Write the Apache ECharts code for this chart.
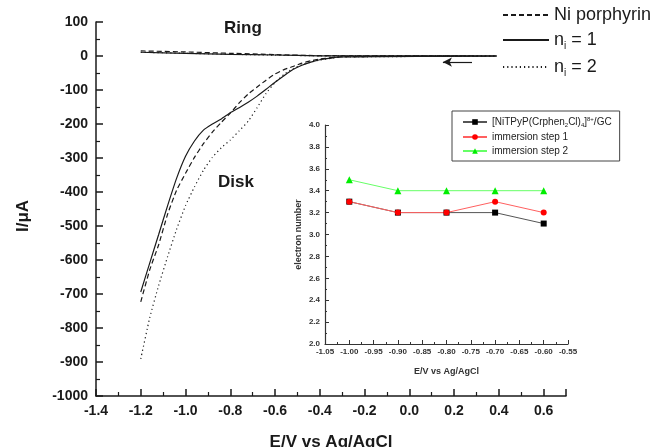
<!DOCTYPE html>
<html>
<head>
<meta charset="utf-8">
<script src="https://cdn.jsdelivr.net/npm/echarts@6/dist/echarts.min.js"></script>
<style>
  html, body { margin: 0; padding: 0; background: #fff; }
  #chart { width: 652px; height: 447px; }
</style>
</head>
<body>
<div id="chart"></div>
<script>
// ring current (small, near zero)
const ringE = [-1.2, -1.0, -0.8, -0.6, -0.4, 0.39];
const ringNi = [15, 12, 8, 4, 1, 0];
const ringN1 = [11, 8, 5, 3, 0.5, 0];
const ringN2 = [11, 8, 5, 2.5, 0.5, 0];

// disk current, all three share the same potentials
const diskE = [-1.20, -1.16, -1.12, -1.08, -1.04, -1.00, -0.96, -0.92, -0.88, -0.84, -0.80, -0.76, -0.72, -0.68, -0.64, -0.60, -0.56, -0.52, -0.48, -0.44, -0.40, -0.35, -0.30, 0.39];
const diskNi = [-723, -629, -555, -465, -395, -345, -298, -258, -224, -195, -168, -138, -112, -91, -71, -53, -40, -31, -21, -14, -9, -5, -2, 0];
const diskN1 = [-694, -609, -525, -440, -360, -295, -250, -218, -200, -185, -167, -152, -136, -118, -98, -77, -58, -40, -27, -18, -11, -6, -3, 0];
const diskN2 = [-891, -770, -675, -590, -510, -440, -385, -336, -298, -270, -247, -220, -192, -152, -110, -78, -54, -37, -26, -18, -12, -7, -3, 0];

// inset: electron number
const insetE = [-1.0, -0.9, -0.8, -0.7, -0.6];
const bareGC = [3.3, 3.2, 3.2, 3.2, 3.1];
const step1 = [3.3, 3.2, 3.2, 3.3, 3.2];
const step2 = [3.5, 3.4, 3.4, 3.4, 3.4];

const zip = (xs, ys) => xs.map((x, i) => [x, ys[i]]);

const FONT = 'Arial, "Liberation Sans", sans-serif';
const INK = '#1a1a1a';

const NAME_NI = 'Ni porphyrin';
const NAME_N1 = 'ni = 1';
const NAME_N2 = 'ni = 2';
const NAME_GC = 'GC';
const NAME_S1 = 'immersion step 1';
const NAME_S2 = 'immersion step 2';

function curve(name, data, dash) {
  return {
    name: name,
    type: 'line',
    xAxisIndex: 0,
    yAxisIndex: 0,
    data: data,
    symbol: 'none',
    smooth: 0.15,
    lineStyle: { color: INK, width: 1.2, type: dash },
    itemStyle: { color: INK },
    z: 2,
  };
}

function insetLine(name, data, color, lineColor, symbol, size) {
  return {
    name: name,
    type: 'line',
    xAxisIndex: 1,
    yAxisIndex: 1,
    data: data,
    symbol: symbol,
    symbolSize: size,
    lineStyle: { color: lineColor, width: 1 },
    itemStyle: { color: color },
    z: 5,
  };
}

const chart = echarts.init(document.getElementById('chart'));

const mainAxisCommon = {
  axisLine: { show: true, onZero: false, lineStyle: { color: INK, width: 1.5 } },
  axisTick: { show: true, inside: true, length: 7, lineStyle: { color: INK, width: 1.5 } },
  minorTick: { show: true, splitNumber: 2, length: 4, lineStyle: { color: INK, width: 1.2 } },
  splitLine: { show: false },
};
const mainName = { color: INK, fontFamily: FONT, fontWeight: 'bold', fontSize: 17 };
const mainLabel = { color: INK, fontFamily: FONT, fontWeight: 'bold', fontSize: 14, margin: 8 };

const insetAxisCommon = {
  axisLine: { show: true, onZero: false, lineStyle: { color: '#333', width: 1.2 } },
  axisTick: { show: true, inside: true, length: 4, lineStyle: { color: '#333', width: 1 } },
  minorTick: { show: true, splitNumber: 2, length: 2, lineStyle: { color: '#333', width: 1 } },
  splitLine: { show: false },
  nameTextStyle: { color: '#333', fontFamily: FONT, fontWeight: 'bold', fontSize: 9 },
};

const ringDiskLabel = (text, x, y) => ({
  type: 'text',
  left: x,
  top: y,
  style: { text: text, fill: INK, font: 'bold 17px ' + FONT },
});

chart.setOption({
  backgroundColor: '#fff',
  animation: false,
  grid: [
    { left: 96, top: 22, width: 470, height: 374, outerBoundsMode: 'none' },
    { left: 325, top: 125, width: 243, height: 219, outerBoundsMode: 'none' },
  ],
  legend: [
    {
      data: [NAME_NI, NAME_N1, NAME_N2],
      orient: 'vertical',
      left: 500,
      top: 4,
      itemWidth: 46,
      itemHeight: 12,
      itemGap: 7,
      padding: 2,
      itemStyle: { opacity: 0 },
      textStyle: {
        color: INK,
        fontFamily: FONT,
        fontSize: 18,
        rich: { s: { fontSize: 10, fontFamily: FONT, color: INK, verticalAlign: 'bottom', padding: [12, 0, 0, 0] } },
      },
      formatter: (n) => {
        if (n === NAME_N1) return 'n{s|i} = 1';
        if (n === NAME_N2) return 'n{s|i} = 2';
        return n;
      },
    },
    {
      data: [NAME_GC, NAME_S1, NAME_S2],
      orient: 'vertical',
      left: 452,
      top: 111,
      itemWidth: 24,
      itemHeight: 7,
      itemGap: 4,
      padding: [5, 8, 5, 10],
      borderColor: '#444',
      borderWidth: 1,
      textStyle: {
        color: '#222',
        fontFamily: FONT,
        fontSize: 10,
        rich: {
          sub: { fontSize: 6, fontFamily: FONT, color: '#222', padding: [6, 0, 0, 0] },
          sup: { fontSize: 6, fontFamily: FONT, color: '#222', padding: [0, 0, 6, 0] },
        },
      },
      formatter: (n) => {
        if (n === NAME_GC) return '[NiTPyP(Crphen{sub|2}Cl){sub|4}]{sup|8+}/GC';
        return n;
      },
    },
  ],
  xAxis: [
    Object.assign({}, mainAxisCommon, {
      gridIndex: 0,
      type: 'value',
      min: -1.4,
      max: 0.7,
      interval: 0.2,
      name: 'E/V vs Ag/AgCl',
      nameLocation: 'middle',
      nameGap: 38,
      nameTextStyle: mainName,
      axisLabel: Object.assign({}, mainLabel, {
        showMaxLabel: false,
        formatter: (v) => v.toFixed(1),
      }),
    }),
    Object.assign({}, insetAxisCommon, {
      gridIndex: 1,
      type: 'value',
      min: -1.05,
      max: -0.55,
      interval: 0.05,
      name: 'E/V vs Ag/AgCl',
      nameLocation: 'middle',
      nameGap: 23,
      axisLabel: {
        color: '#333', fontFamily: FONT, fontWeight: 'bold', fontSize: 8, margin: 4,
        formatter: (v) => v.toFixed(2),
      },
    }),
  ],
  yAxis: [
    Object.assign({}, mainAxisCommon, {
      gridIndex: 0,
      type: 'value',
      min: -1000,
      max: 100,
      interval: 100,
      name: 'I/μA',
      nameLocation: 'middle',
      nameGap: 64,
      nameTextStyle: Object.assign({}, mainName, { padding: [0, 14, 0, 0] }),
      axisLabel: Object.assign({}, mainLabel, { formatter: (v) => String(v) }),
    }),
    Object.assign({}, insetAxisCommon, {
      gridIndex: 1,
      type: 'value',
      min: 2.0,
      max: 4.0,
      interval: 0.2,
      name: 'electron number',
      nameLocation: 'middle',
      nameGap: 22,
      axisLabel: {
        color: '#333', fontFamily: FONT, fontWeight: 'bold', fontSize: 8, margin: 5,
        formatter: (v) => v.toFixed(1),
      },
    }),
  ],
  graphic: [
    ringDiskLabel('Ring', 224, 20),
    ringDiskLabel('Disk', 218, 174),
  ],
  series: [
    curve(NAME_NI, zip(ringE, ringNi), [5, 3]),
    Object.assign(curve(NAME_N1, zip(ringE, ringN1), 'solid'), {
      markLine: {
        silent: true,
        symbol: ['none', 'arrow'],
        symbolSize: [7, 9],
        label: { show: false },
        lineStyle: { color: INK, width: 1.2, type: 'solid' },
        data: [[{ coord: [0.28, -18] }, { coord: [0.15, -18] }]],
      },
    }),
    curve(NAME_N2, zip(ringE, ringN2), [1.2, 3]),
    curve(NAME_NI, zip(diskE, diskNi), [5, 3]),
    curve(NAME_N1, zip(diskE, diskN1), 'solid'),
    curve(NAME_N2, zip(diskE, diskN2), [1.2, 3]),
    insetLine(NAME_GC, zip(insetE, bareGC), '#000', '#555', 'rect', 6),
    insetLine(NAME_S1, zip(insetE, step1), '#ff0000', '#ff6060', 'circle', 6),
    insetLine(NAME_S2, zip(insetE, step2), '#00ee00', '#66ff66', 'triangle', 7),
  ],
});
</script>
</body>
</html>
